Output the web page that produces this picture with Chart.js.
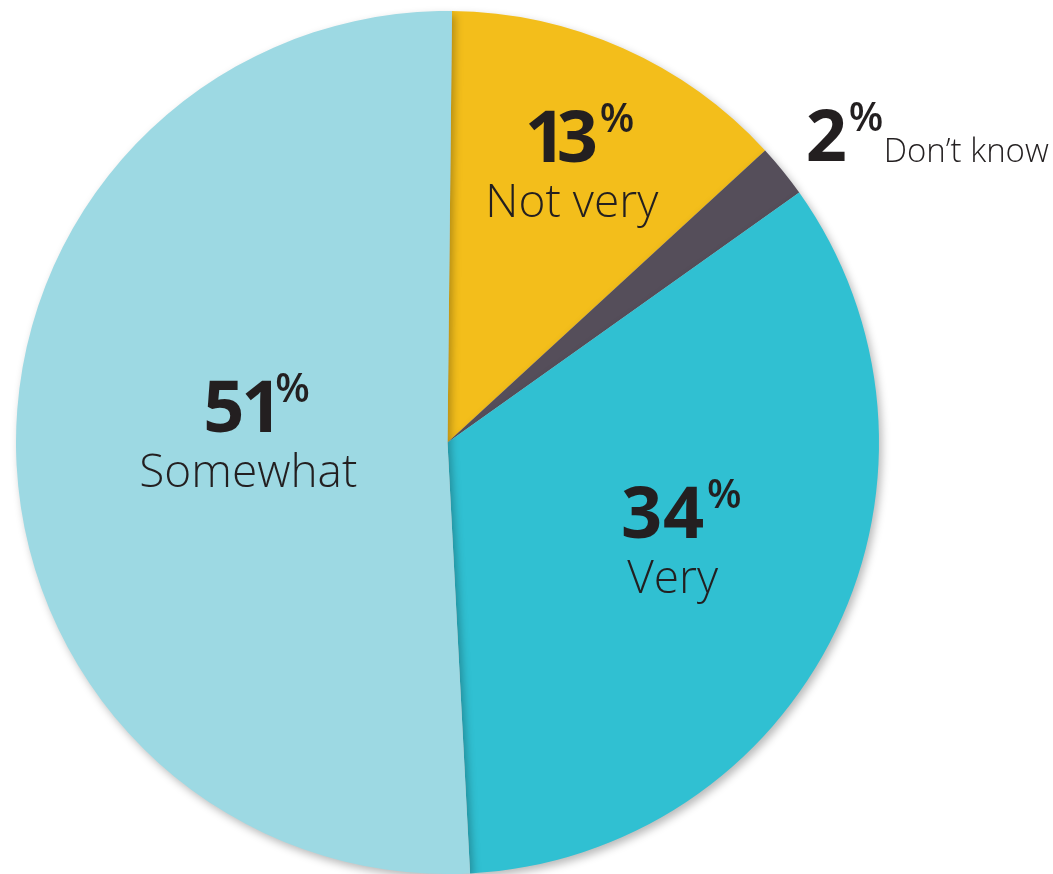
<!DOCTYPE html>
<html>
<head>
<meta charset="utf-8">
<script src="https://cdn.jsdelivr.net/npm/chart.js@4.4.1/dist/chart.umd.min.js"></script>
<style>
  html, body { margin: 0; padding: 0; background: #ffffff; }
  #wrap { width: 1053px; height: 874px; position: relative; }
</style>
</head>
<body>
<div id="wrap"><canvas id="c" width="1053" height="874"></canvas></div>
<script>
const categories = ['Not very', 'Don\u2019t know', 'Very', 'Somewhat'];
const values = [13, 2, 34, 51];
const percentLabels = ['13', '2', '34', '51'];
const sliceColors = ['#F3BE1B', '#554E5A', '#30C0D2', '#9DD9E3'];

// label placement style: angle offset (deg) from slice mid, radius fraction, layout mode
const labelPlacement = [
  { da: 4.9, f: 0.596, mode: 'stack' },
  { da: 2.4, f: 1.093, mode: 'inline' },
  { da: 7.9, f: 0.627, mode: 'stack' },
  { da: -11.3, f: 0.473, mode: 'stack' }
];

const FONT = '"Open Sans", "DejaVu Sans", sans-serif';
const TEXT = '#231F20';
const NUM_FONT = 'bold 72px ' + FONT;
const PCT_FONT = '600 40px ' + FONT;

// ink-based glyph run: returns pieces with draw x and total ink width
function layoutInk(ctx, str, font, gap) {
  ctx.font = font;
  const pieces = [];
  let x = 0;
  for (const ch of str) {
    const m = ctx.measureText(ch);
    const l = m.actualBoundingBoxLeft, r = m.actualBoundingBoxRight;
    pieces.push({ ch, dx: x + l });
    x += l + r + gap;
  }
  return { pieces, width: x - gap };
}
function drawRun(ctx, run, font, x0, base) {
  ctx.font = font;
  ctx.textAlign = 'left';
  run.pieces.forEach(p => ctx.fillText(p.ch, x0 + p.dx, base));
}

const labelPlugin = {
  id: 'sliceLabels',
  afterDatasetsDraw(chart) {
    const ctx = chart.ctx;
    const meta = chart.getDatasetMeta(0);
    meta.data.forEach((arc, i) => {
      const p = arc.getProps(['x', 'y', 'startAngle', 'endAngle', 'outerRadius'], true);
      const pl = labelPlacement[i];
      const mid = (p.startAngle + p.endAngle) / 2 + pl.da * Math.PI / 180;
      const ax = p.x + Math.cos(mid) * p.outerRadius * pl.f;
      const ay = p.y + Math.sin(mid) * p.outerRadius * pl.f;
      ctx.save();
      ctx.fillStyle = TEXT;
      ctx.textBaseline = 'alphabetic';
      const num = layoutInk(ctx, percentLabels[i], NUM_FONT, 4);
      const pct = layoutInk(ctx, '%', PCT_FONT, 0);
      const pctGap = 5;
      if (pl.mode === 'stack') {
        const numBase = ay - 55;
        const groupW = num.width + pctGap + pct.width;
        const gx = ax + 9 - groupW / 2;
        drawRun(ctx, num, NUM_FONT, gx, numBase);
        drawRun(ctx, pct, PCT_FONT, gx + num.width + pctGap, numBase - 30);
        ctx.font = '300 46px ' + FONT;
        ctx.textAlign = 'center';
        ctx.fillText(categories[i], ax, ay);
      } else {
        const gx = ax - num.width / 2;
        drawRun(ctx, num, NUM_FONT, gx, ay);
        const px = gx + num.width + pctGap;
        drawRun(ctx, pct, PCT_FONT, px, ay - 30);
        ctx.font = '300 33px ' + FONT;
        ctx.textAlign = 'left';
        const nm = ctx.measureText(categories[i]);
        ctx.fillText(categories[i], px + pct.width + 5 + nm.actualBoundingBoxLeft, ay + 1);
      }
      ctx.restore();
    });
  }
};

const shadowPlugin = {
  id: 'pieShadow',
  beforeDatasetsDraw(chart) {
    const ctx = chart.ctx;
    ctx.save();
    ctx.shadowColor = 'rgba(0,0,0,0.28)';
    ctx.shadowBlur = 8;
    ctx.shadowOffsetX = 3;
    ctx.shadowOffsetY = 4;
  },
  afterDatasetsDraw(chart) {
    chart.ctx.restore();
  }
};

new Chart(document.getElementById('c'), {
  type: 'pie',
  data: {
    labels: categories,
    datasets: [{
      data: values,
      backgroundColor: sliceColors,
      borderWidth: 0,
      hoverOffset: 0
    }]
  },
  options: {
    responsive: false,
    animation: false,
    rotation: 0.6,
    layout: { padding: { left: 16, top: 11, right: 174, bottom: 0 } },
    plugins: {
      legend: { display: false },
      tooltip: { enabled: false },
      title: { display: false }
    }
  },
  plugins: [shadowPlugin, labelPlugin]
});
</script>
</body>
</html>
